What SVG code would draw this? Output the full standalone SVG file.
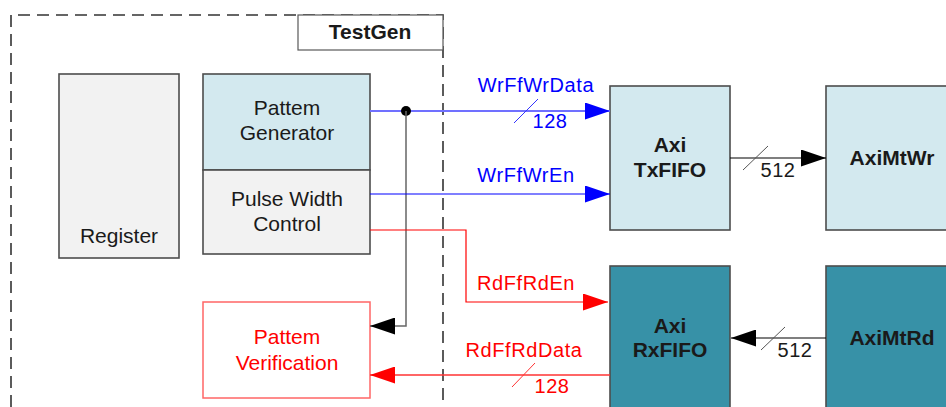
<svg xmlns="http://www.w3.org/2000/svg" width="946" height="407" viewBox="0 0 946 407">
<defs>
<style>
.t{font-family:"Liberation Sans",Arial,sans-serif;font-size:21px;text-anchor:middle;fill:#1a1a1a}
.b{font-weight:bold}
.lb{font-family:"Liberation Sans",Arial,sans-serif;font-size:20px;text-anchor:middle;letter-spacing:0.6px}
.box{stroke:#4d4d4d;stroke-width:1.6}
</style>
<marker id="ab" viewBox="0 0 10 10" refX="10" refY="5" markerWidth="25" markerHeight="17" markerUnits="userSpaceOnUse" orient="auto" preserveAspectRatio="none"><path d="M0,0L10,5L0,10z" fill="#0000ff"/></marker>
<marker id="ar" viewBox="0 0 10 10" refX="10" refY="5" markerWidth="25" markerHeight="17" markerUnits="userSpaceOnUse" orient="auto" preserveAspectRatio="none"><path d="M0,0L10,5L0,10z" fill="#ff0000"/></marker>
<marker id="ak" viewBox="0 0 10 10" refX="10" refY="5" markerWidth="25" markerHeight="17" markerUnits="userSpaceOnUse" orient="auto" preserveAspectRatio="none"><path d="M0,0L10,5L0,10z" fill="#000"/></marker>
</defs>
<rect width="946" height="407" fill="#fff"/>
<g id="testgen">
<path d="M11,407V15H443V407" fill="none" stroke="#333" stroke-width="1.6" stroke-dasharray="12,7"/>
<rect x="298" y="15" width="145" height="35" fill="#fff" stroke="#595959" stroke-width="1.2"/>
<text class="t b" x="370" y="39">TestGen</text>
</g>
<g id="register">
<rect class="box" x="59" y="74" width="120" height="184" fill="#f2f2f2"/>
<text class="t" x="119" y="243">Register</text>
</g>
<g id="patgen">
<rect class="box" x="203" y="74" width="167" height="96" fill="#d3e9ef"/>
<text class="t" x="287" y="115">Pattem</text>
<text class="t" x="287" y="140">Generator</text>
</g>
<g id="pulse">
<rect class="box" x="203" y="170" width="167" height="84" fill="#f2f2f2"/>
<text class="t" x="287" y="206">Pulse Width</text>
<text class="t" x="287" y="231">Control</text>
</g>
<g id="patver">
<rect x="203" y="302" width="167" height="96" fill="#fff" stroke="#ff6666" stroke-width="1.5"/>
<text class="t" x="287" y="344" style="fill:#ff0000">Pattem</text>
<text class="t" x="287" y="370" style="fill:#ff0000">Verification</text>
</g>
<g id="txfifo">
<rect class="box" x="610" y="86" width="120" height="144" fill="#d3e9ef"/>
<text class="t b" x="670" y="152">Axi</text>
<text class="t b" x="670" y="177">TxFIFO</text>
</g>
<g id="rxfifo">
<rect class="box" x="610" y="266" width="120" height="150" fill="#3791a7"/>
<text class="t b" x="670" y="333">Axi</text>
<text class="t b" x="670" y="357">RxFIFO</text>
</g>
<g id="aximtwr">
<rect class="box" x="826" y="86" width="130" height="144" fill="#d3e9ef"/>
<text class="t b" x="892" y="165">AxiMtWr</text>
</g>
<g id="aximtrd">
<rect class="box" x="826" y="266" width="130" height="150" fill="#3791a7"/>
<text class="t b" x="892" y="345">AxiMtRd</text>
</g>
<g id="connectors" fill="none">
<line x1="370" y1="111" x2="610" y2="111" stroke="#7070ff" stroke-width="2" marker-end="url(#ab)"/>
<line x1="514" y1="123" x2="538" y2="99" stroke="#3333ff" stroke-width="1"/>
<circle cx="406" cy="111" r="5" fill="#000"/>
<path d="M406,111V326H370" stroke="#666" stroke-width="1.5" marker-end="url(#ak)"/>
<line x1="370" y1="194" x2="610" y2="194" stroke="#0000ff" stroke-width="1.2" marker-end="url(#ab)"/>
<path d="M370,230H466V302H608" stroke="#ff0000" stroke-width="1.2" marker-end="url(#ar)"/>
<line x1="610" y1="375" x2="370" y2="375" stroke="#ff3333" stroke-width="1.5" marker-end="url(#ar)"/>
<line x1="512" y1="387" x2="535" y2="363" stroke="#ff3333" stroke-width="1"/>
<line x1="730" y1="158" x2="826" y2="158" stroke="#000" stroke-width="1.2" marker-end="url(#ak)"/>
<line x1="743" y1="170" x2="768" y2="146" stroke="#555" stroke-width="1"/>
<line x1="826" y1="338" x2="731" y2="338" stroke="#000" stroke-width="1.2" marker-end="url(#ak)"/>
<line x1="761" y1="350" x2="785" y2="327" stroke="#555" stroke-width="1"/>
<text class="lb" x="536" y="92" fill="#0000ff">WrFfWrData</text>
<text class="lb" x="550" y="128" fill="#0000ff">128</text>
<text class="lb" x="526" y="182" fill="#0000ff">WrFfWrEn</text>
<text class="lb" x="526" y="290" fill="#ff0000">RdFfRdEn</text>
<text class="lb" x="524" y="357" fill="#ff0000">RdFfRdData</text>
<text class="lb" x="552" y="393" fill="#ff0000">128</text>
<text class="lb" x="778" y="177" fill="#1a1a1a">512</text>
<text class="lb" x="795" y="357" fill="#1a1a1a">512</text>
</g>
</svg>
